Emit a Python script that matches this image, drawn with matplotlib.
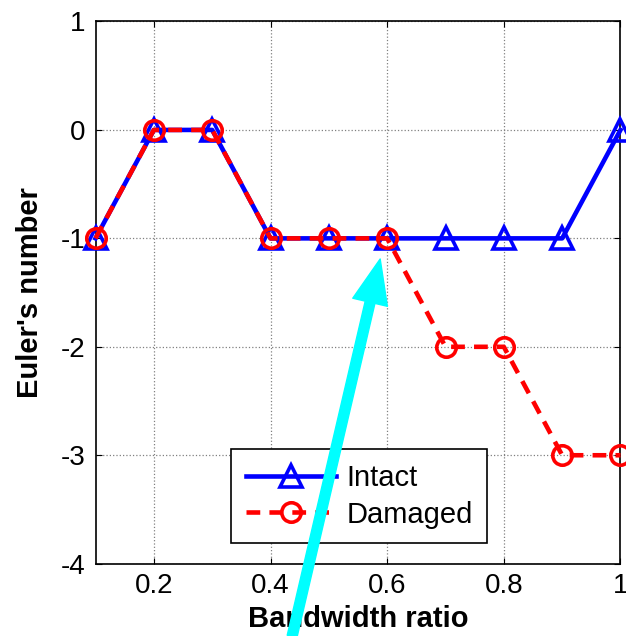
import matplotlib
matplotlib.use('Agg')
import matplotlib.pyplot as plt

# data
ratio = [0.1, 0.2, 0.3, 0.4, 0.5, 0.6, 0.7, 0.8, 0.9, 1.0]
intact = [-1, 0, 0, -1, -1, -1, -1, -1, -1, 0]
damaged = [-1, 0, 0, -1, -1, -1, -2, -2, -3, -3]
xticks = [0.2, 0.4, 0.6, 0.8, 1.0]
xticklabels = ['0.2', '0.4', '0.6', '0.8', '1']
yticks = [-4, -3, -2, -1, 0, 1]

plt.rcParams['font.family'] = ['Liberation Sans', 'DejaVu Sans']
plt.rcParams['axes.unicode_minus'] = False

fig = plt.figure(figsize=(6.26, 6.36), dpi=100)
ax = fig.add_axes([0.1526, 0.1137, 0.8386, 0.8525])

ax.plot(ratio, intact, '-^', color='blue', lw=3.3, ms=16, mew=2.6,
        mfc='none', label='Intact', clip_on=False, zorder=3)
ax.plot(ratio, damaged, '--o', color='red', lw=3.3, ms=14, mew=2.6,
        mfc='none', label='Damaged', clip_on=False, zorder=4, dashes=(3, 2))

ax.set_xlim(0.1, 1.0)
ax.set_ylim(-4, 1)
ax.set_xticks(xticks)
ax.set_xticklabels(xticklabels)
ax.set_yticks(yticks)
ax.tick_params(direction='in', length=4, labelsize=20, top=True, right=True, pad=7)
ax.grid(True, linestyle=':', color='gray', linewidth=0.9)
for sp in ax.spines.values():
    sp.set_linewidth(1.2)

ax.set_xlabel('Bandwidth ratio', fontsize=21, fontweight='bold', labelpad=4)
ax.set_ylabel("Euler's number", fontsize=21, fontweight='bold', labelpad=12)

leg = ax.legend(loc='lower left', bbox_to_anchor=(0.258, 0.038, 0.488, 0.175),
                mode='expand', fontsize=21, handlelength=3.1, handletextpad=0.35,
                fancybox=False, framealpha=1, edgecolor='black', borderaxespad=0,
                borderpad=0.5, labelspacing=0.3)
leg.get_frame().set_linewidth(1.2)

ax.annotate('', xy=(0.588, -1.19), xytext=(0.437, -4.67),
            xycoords='data', textcoords='data', annotation_clip=False,
            arrowprops=dict(arrowstyle='simple,head_length=2.0,head_width=1.6,tail_width=0.45',
                            color='cyan', mutation_scale=16, shrinkA=0, shrinkB=0),
            zorder=6)

fig.savefig('out.png', dpi=100)
